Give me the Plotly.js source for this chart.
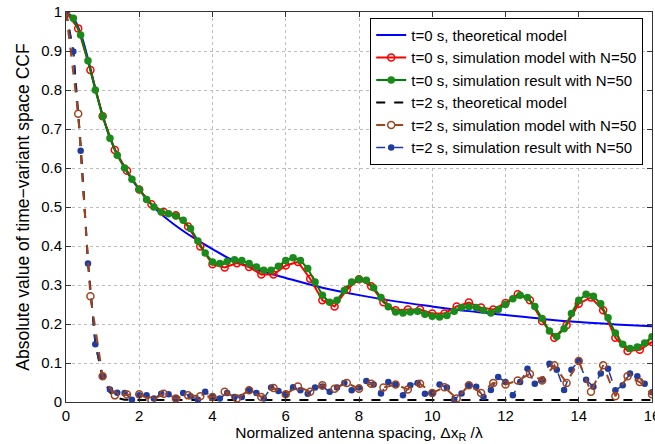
<!DOCTYPE html>
<html>
<head>
<meta charset="utf-8">
<script src="https://cdn.plot.ly/plotly-3.0.1.min.js"></script>
<style>html,body{margin:0;padding:0;background:#fff;}#chart{width:655px;height:444px;}</style>
</head>
<body>
<div id="chart"></div>
<script>
// ---- data ----
const theoryT0X = [0,0.2,0.4,0.6,0.8,1,1.2,1.4,1.6,1.8,2,2.5,3,3.5,4,4.5,5,5.5,6,7,8,9,10,11,12,13,14,15,16];
const theoryT0Y = [1,0.985,0.945,0.88,0.805,0.735,0.678,0.635,0.6,0.57,0.545,0.49,0.452,0.42,0.392,0.366,0.347,0.331,0.318,0.293,0.274,0.258,0.245,0.233,0.223,0.213,0.205,0.199,0.194];

const theoryT2X = [0,0.2,0.4,0.6,0.8,1,1.2,1.4,1.6,2,3,4,5,6,7,8,9,10,11,12,13,14,15,16];
const theoryT2Y = [1,0.9,0.66,0.36,0.15,0.062,0.025,0.01,0.006,0.005,0.005,0.005,0.005,0.005,0.005,0.005,0.005,0.005,0.005,0.005,0.005,0.005,0.005,0.005];

// simulation model (sampled every 1/3)
const modelT0Y = [1,0.958,0.851,0.733,0.646,0.593,0.545,0.507,0.487,0.479,0.45,0.399,0.353,0.345,0.356,0.346,0.327,0.327,0.35,0.359,0.316,0.261,0.245,0.288,0.315,0.297,0.256,0.235,0.237,0.237,0.227,0.227,0.245,0.255,0.242,0.237,0.254,0.276,0.261,0.208,0.165,0.197,0.252,0.268,0.235,0.165,0.131,0.134,0.154];
const modelT2Y = [1,0.739,0.271,0.066,0.017,0.019,0.02,0.004,0.021,0.009,0.017,0.015,0.013,0.026,0.009,0.03,0.013,0.036,0.02,0.04,0.026,0.043,0.034,0.049,0.034,0.047,0.037,0.045,0.032,0.047,0.023,0.038,0.009,0.043,0.023,0.049,0.045,0.055,0.072,0.055,0.094,0.049,0.105,0.026,0.094,0.015,0.066,0.051,0.02];

// simulation result (sampled every 0.2)
const resultT0Y = [1,0.984,0.941,0.875,0.8,0.733,0.676,0.633,0.6,0.571,0.545,0.519,0.5,0.487,0.483,0.477,0.466,0.445,0.413,0.382,0.359,0.355,0.36,0.365,0.363,0.355,0.346,0.338,0.338,0.348,0.363,0.37,0.363,0.342,0.308,0.274,0.256,0.261,0.286,0.308,0.315,0.312,0.293,0.268,0.244,0.231,0.228,0.231,0.233,0.225,0.22,0.218,0.222,0.233,0.242,0.244,0.242,0.235,0.228,0.237,0.25,0.265,0.274,0.268,0.245,0.214,0.182,0.168,0.188,0.227,0.261,0.276,0.271,0.252,0.216,0.177,0.148,0.137,0.141,0.151,0.167];
const resultT2Y = [1,0.899,0.644,0.355,0.148,0.066,0.032,0.024,0.023,0.006,0.017,0.017,0.009,0.021,0.02,0.009,0.023,0.015,0.006,0.026,0.013,0.009,0.023,0.013,0.013,0.03,0.023,0.009,0.037,0.028,0.02,0.038,0.03,0.021,0.037,0.04,0.026,0.037,0.049,0.03,0.037,0.054,0.045,0.022,0.051,0.045,0.017,0.043,0.049,0.021,0.023,0.045,0.037,0.006,0.022,0.043,0.039,0.013,0.031,0.064,0.051,0.017,0.051,0.085,0.047,0.057,0.098,0.083,0.031,0.083,0.105,0.057,0.039,0.073,0.085,0.03,0.043,0.073,0.066,0.047,0.025];

const xTickVals = [0,2,4,6,8,10,12,14,16];
const xTickText = ['0','2','4','6','8','10','12','14','16'];
const yTickVals = [0,0.1,0.2,0.3,0.4,0.5,0.6,0.7,0.8,0.9,1];
const yTickText = ['0','0.1','0.2','0.3','0.4','0.5','0.6','0.7','0.8','0.9','1'];

const modelX = modelT0Y.map((_, i) => i / 3);
const resultX = resultT0Y.map((_, i) => i * 0.2);

const names = [
  't=0 s, theoretical model',
  't=0 s, simulation model with N=50',
  't=0 s, simulation result with N=50',
  't=2 s, theoretical model',
  't=2 s, simulation model with N=50',
  't=2 s, simulation result with N=50'
];

const traces = [
  {x: theoryT0X, y: theoryT0Y, name: names[0], mode: 'lines', line: {color: '#0000ff', width: 2, shape: 'spline'}},
  {x: modelX, y: modelT0Y, name: names[1], mode: 'lines+markers', line: {color: '#ff0000', width: 2},
   marker: {symbol: 'circle-open', size: 7, color: '#ff0000', line: {width: 1.5}}},
  {x: resultX, y: resultT0Y, name: names[2], mode: 'lines+markers', line: {color: '#008000', width: 2},
   marker: {symbol: 'circle', size: 7.5, color: '#1a8a1a'}},
  {x: theoryT2X, y: theoryT2Y, name: names[3], mode: 'lines', line: {color: '#000000', width: 2, dash: 'dash'}},
  {x: modelX, y: modelT2Y, name: names[4], mode: 'lines+markers', line: {color: '#a0441c', width: 2, dash: 'dash'},
   marker: {symbol: 'circle-open', size: 7, color: '#a0441c', line: {width: 1.5}}},
  {x: resultX, y: resultT2Y, name: names[5], mode: 'lines+markers', line: {color: '#1f3c9e', width: 1.5, dash: 'dash'},
   marker: {symbol: 'circle', size: 6.5, color: '#1f3c9e'}}
];
const order = [0, 1, 2, 3, 5, 4];
const drawn = order.map(i => traces[i]);
drawn.forEach(t => { t.legendrank = names.indexOf(t.name) + 1; });

const layout = {
  width: 655, height: 444,
  margin: {l: 66, r: 3, t: 12, b: 42},
  paper_bgcolor: '#ffffff', plot_bgcolor: '#ffffff',
  font: {family: 'Liberation Sans, Arial, sans-serif', size: 15, color: '#000'},
  showlegend: true,
  legend: {
    x: 0.985, xanchor: 'right', y: 0.985, yanchor: 'top',
    bgcolor: '#ffffff', bordercolor: '#000000', borderwidth: 1,
    font: {size: 15}, tracegroupgap: 0, traceorder: 'normal',
    itemwidth: 30
  },
  xaxis: {
    range: [0, 16], tickvals: xTickVals, ticktext: xTickText, ticklabeloverflow: 'allow',
    showline: true, linecolor: '#333', mirror: 'ticks', ticks: 'inside', ticklen: 5, tickcolor: '#333',
    showgrid: true, gridcolor: '#bdbdbd', griddash: 'dot', gridwidth: 1, zeroline: false,
    title: {text: 'Normalized antenna spacing, Δx<sub>R</sub> /λ', font: {size: 15.5}, standoff: 2},
    tickfont: {size: 15}
  },
  yaxis: {
    range: [0, 1], tickvals: yTickVals, ticktext: yTickText,
    showline: true, linecolor: '#333', mirror: 'ticks', ticks: 'inside', ticklen: 5, tickcolor: '#333',
    showgrid: true, gridcolor: '#bdbdbd', griddash: 'dot', gridwidth: 1, zeroline: false,
    title: {text: 'Absolute value of time−variant space CCF', font: {size: 17.5}, standoff: 7},
    tickfont: {size: 15}
  }
};

Plotly.newPlot('chart', drawn, layout, {staticPlot: true, displayModeBar: false});
</script>
</body>
</html>
